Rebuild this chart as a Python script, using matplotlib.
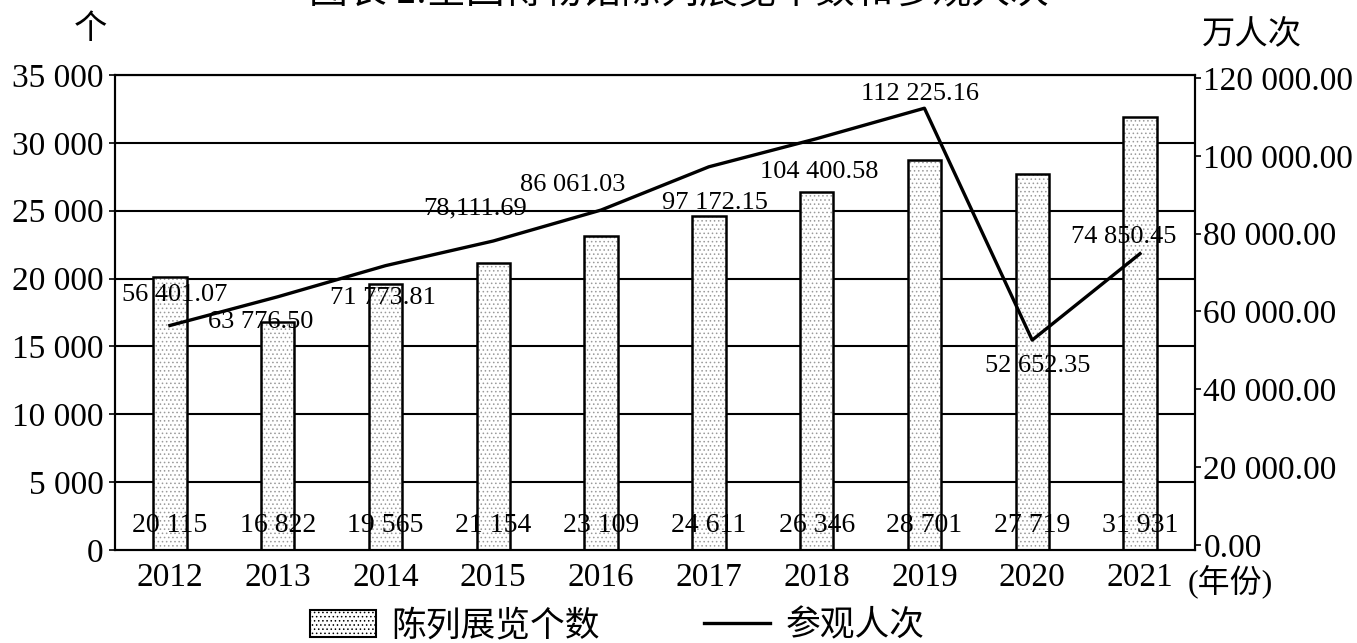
import matplotlib
matplotlib.use("Agg")
from matplotlib import pyplot as plt
from matplotlib.patches import Patch
from matplotlib.lines import Line2D

plt.rcParams['font.family'] = ['Liberation Serif', 'Noto Sans CJK SC', 'DejaVu Sans']
plt.rcParams['hatch.linewidth'] = 0.6

years = ['2012', '2013', '2014', '2015', '2016', '2017', '2018', '2019', '2020', '2021']
exhibitions = [20115, 16822, 19565, 21154, 23109, 24611, 26346, 28701, 27719, 31931]
visitors = [56401.07, 63776.50, 71773.81, 78111.69, 86061.03, 97172.15, 104400.58, 112225.16, 52652.35, 74850.45]
exhibition_labels = ['20 115', '16 822', '19 565', '21 154', '23 109', '24 611', '26 346', '28 701', '27 719', '31 931']
visitor_labels = ['56 401.07', '63 776.50', '71 773.81', '78,111.69', '86 061.03', '97 172.15',
                  '104 400.58', '112 225.16', '52 652.35', '74 850.45']
left_ticks = [0, 5000, 10000, 15000, 20000, 25000, 30000, 35000]
left_ticklabels = ['0', '5 000', '10 000', '15 000', '20 000', '25 000', '30 000', '35 000']
right_ticks = [0, 20000, 40000, 60000, 80000, 100000, 120000]
right_ticklabels = ['0.00', '20 000.00', '40 000.00', '60 000.00', '80 000.00', '100 000.00', '120 000.00']

# label offsets (pixels) for the line values
offsets = [(5, 30), (-17, -25), (-3, -32), (-18, 33), (-28, 25), (6, -36), (3, -33), (-4, 14), (5, -26), (-16, 17)]

fig = plt.figure(figsize=(13.57, 6.43), dpi=100)
ax = fig.add_axes([0.0847, 0.1446, 0.7959, 0.7388])
x = list(range(len(years)))

ax.bar(x, exhibitions, width=0.31, color='white', edgecolor='#9a9a9a', linewidth=0, hatch='....', zorder=2)
ax.bar(x, exhibitions, width=0.31, fill=False, edgecolor='black', linewidth=1.8, zorder=3)
ax.set_xlim(-0.51, 9.51)
ax.set_ylim(0, 35000)
ax.set_yticks(left_ticks)
ax.set_yticklabels(left_ticklabels, fontsize=24)
ax.set_xticks(x)
ax.set_xticklabels(years, fontsize=24)
ax.tick_params(axis='x', length=0, pad=9)
ax.tick_params(axis='y', length=4, width=1.2, pad=4)
for t in left_ticks[1:]:
    ax.axhline(t, color='black', linewidth=1.5, zorder=1)
for s in ax.spines.values():
    s.set_linewidth(1.5)

for i, lab in enumerate(exhibition_labels):
    ax.annotate(lab, (i, 0), xytext=(0, 25), textcoords='offset pixels',
                ha='center', va='center', fontsize=20, zorder=5)

ax2 = ax.twinx()
ax2.plot(x, visitors, color='black', linewidth=2.4, zorder=4)
ax2.set_ylim(-1285, 120765)
ax2.set_yticks(right_ticks)
ax2.set_yticklabels(right_ticklabels, fontsize=24)
ax2.tick_params(axis='y', length=4, width=1.2, pad=2)
for s in ax2.spines.values():
    s.set_linewidth(1.5)

for i, lab in enumerate(visitor_labels):
    ax2.annotate(lab, (i, visitors[i]), xytext=offsets[i], textcoords='offset pixels',
                 ha='center', va='center', fontsize=19, zorder=5)

fig.text(90 / 1357, 1 - 30 / 643, '个', fontsize=24, ha='center', va='center')
fig.text(1252 / 1357, 1 - 35 / 643, '万人次', fontsize=24, ha='center', va='center')
fig.text(1230 / 1357, 1 - 582 / 643, '(年份)', fontsize=23, ha='center', va='center')
fig.text(0.5, 1.01, '图表 2:全国博物馆陈列展览个数和参观人次', fontsize=28, ha='center', va='center')

handles = [Patch(facecolor='white', edgecolor='black', hatch='....', linewidth=1.5),
           Line2D([0], [0], color='black', linewidth=2.4)]
fig.legend(handles, ['陈列展览个数', '参观人次'], loc='center', bbox_to_anchor=(0.455, 1 - 627 / 643),
           ncol=2, frameon=False, fontsize=25, handlelength=1.9, handleheight=0.8,
           columnspacing=3.0, handletextpad=0.45)

fig.savefig('out.png', dpi=100)
